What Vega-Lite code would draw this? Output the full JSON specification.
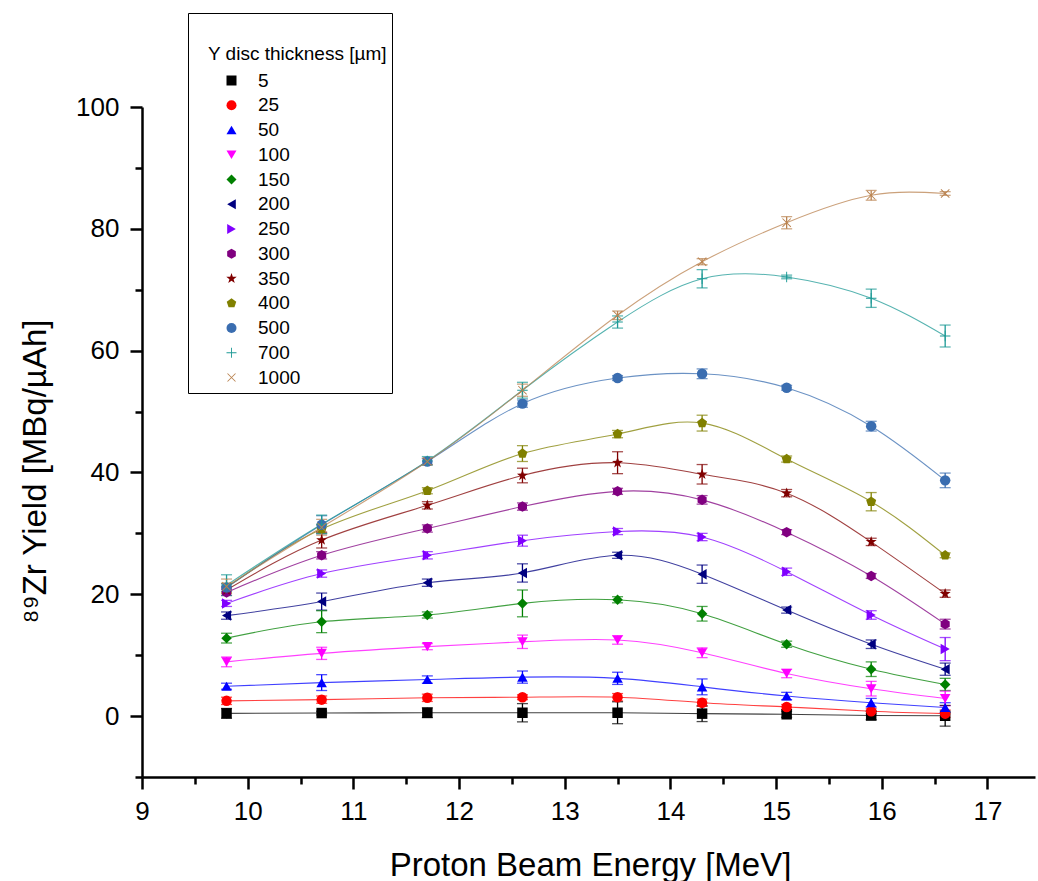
{
"$schema": "https://vega.github.io/schema/vega-lite/v6.json",
"width": 893, "height": 670,
"autosize": {"type": "none"},
"padding": {"left": 142, "top": 107, "right": 3, "bottom": 104},
"background": "white",
"config": {
 "view": {"stroke": null},
 "font": "Liberation Sans",
 "axis": {"grid": false, "domainColor": "black", "tickColor": "black", "labelColor": "black", "titleColor": "black", "labelFont": "Liberation Sans", "titleFont": "Liberation Sans", "labelFontSize": 26, "titleFontSize": 33, "titleFontWeight": "normal", "domainWidth": 2.5, "tickWidth": 2.5}
},
"data": {"values": [
{"t":"5","x":9.8,"y":0.45,"e":0.8},{"t":"5","x":10.7,"y":0.5,"e":0.3},{"t":"5","x":11.7,"y":0.55,"e":0.8},{"t":"5","x":12.6,"y":0.55,"e":1.5},{"t":"5","x":13.5,"y":0.55,"e":1.8},{"t":"5","x":14.3,"y":0.4,"e":1.3},{"t":"5","x":15.1,"y":0.3,"e":0.5},{"t":"5","x":15.9,"y":0.1,"e":0.7},{"t":"5","x":16.6,"y":0.05,"e":1.7},
{"t":"25","x":9.8,"y":2.5,"e":0.6},{"t":"25","x":10.7,"y":2.7,"e":0.6},{"t":"25","x":11.7,"y":3.0,"e":0.6},{"t":"25","x":12.6,"y":3.1,"e":0.4},{"t":"25","x":13.5,"y":3.1,"e":0.6},{"t":"25","x":14.3,"y":2.2,"e":0.6},{"t":"25","x":15.1,"y":1.5,"e":0.4},{"t":"25","x":15.9,"y":0.8,"e":0.4},{"t":"25","x":16.6,"y":0.4,"e":0.6},
{"t":"50","x":9.8,"y":4.9,"e":0.5},{"t":"50","x":10.7,"y":5.5,"e":1.3},{"t":"50","x":11.7,"y":6.0,"e":0.6},{"t":"50","x":12.6,"y":6.4,"e":1.0},{"t":"50","x":13.5,"y":6.2,"e":1.0},{"t":"50","x":14.3,"y":4.8,"e":1.3},{"t":"50","x":15.1,"y":3.3,"e":0.6},{"t":"50","x":15.9,"y":2.2,"e":0.7},{"t":"50","x":16.6,"y":1.4,"e":0.8},
{"t":"100","x":9.8,"y":8.9,"e":0.8},{"t":"100","x":10.7,"y":10.3,"e":1.0},{"t":"100","x":11.7,"y":11.4,"e":0.5},{"t":"100","x":12.6,"y":12.2,"e":1.1},{"t":"100","x":13.5,"y":12.5,"e":0.7},{"t":"100","x":14.3,"y":10.4,"e":0.8},{"t":"100","x":15.1,"y":7.0,"e":0.7},{"t":"100","x":15.9,"y":4.5,"e":1.2},{"t":"100","x":16.6,"y":2.9,"e":1.2},
{"t":"150","x":9.8,"y":12.8,"e":0.8},{"t":"150","x":10.7,"y":15.5,"e":1.8},{"t":"150","x":11.7,"y":16.6,"e":0.5},{"t":"150","x":12.6,"y":18.5,"e":2.2},{"t":"150","x":13.5,"y":19.1,"e":0.5},{"t":"150","x":14.3,"y":16.8,"e":1.2},{"t":"150","x":15.1,"y":11.8,"e":0.5},{"t":"150","x":15.9,"y":7.7,"e":1.2},{"t":"150","x":16.6,"y":5.2,"e":1.0},
{"t":"200","x":9.8,"y":16.5,"e":0.6},{"t":"200","x":10.7,"y":18.8,"e":1.4},{"t":"200","x":11.7,"y":21.9,"e":0.6},{"t":"200","x":12.6,"y":23.5,"e":1.5},{"t":"200","x":13.5,"y":26.4,"e":0.5},{"t":"200","x":14.3,"y":23.3,"e":1.5},{"t":"200","x":15.1,"y":17.4,"e":0.5},{"t":"200","x":15.9,"y":11.8,"e":0.7},{"t":"200","x":16.6,"y":7.7,"e":1.0},
{"t":"250","x":9.8,"y":18.5,"e":0.5},{"t":"250","x":10.7,"y":23.4,"e":0.6},{"t":"250","x":11.7,"y":26.4,"e":0.6},{"t":"250","x":12.6,"y":28.8,"e":0.9},{"t":"250","x":13.5,"y":30.3,"e":0.5},{"t":"250","x":14.3,"y":29.4,"e":0.6},{"t":"250","x":15.1,"y":23.7,"e":0.6},{"t":"250","x":15.9,"y":16.6,"e":0.7},{"t":"250","x":16.6,"y":11.0,"e":1.9},
{"t":"300","x":9.8,"y":20.3,"e":0.5},{"t":"300","x":10.7,"y":26.4,"e":0.6},{"t":"300","x":11.7,"y":30.8,"e":0.6},{"t":"300","x":12.6,"y":34.4,"e":0.6},{"t":"300","x":13.5,"y":36.9,"e":0.5},{"t":"300","x":14.3,"y":35.5,"e":0.7},{"t":"300","x":15.1,"y":30.2,"e":0.4},{"t":"300","x":15.9,"y":23.0,"e":0.4},{"t":"300","x":16.6,"y":15.1,"e":0.8},
{"t":"350","x":9.8,"y":20.7,"e":0.5},{"t":"350","x":10.7,"y":28.9,"e":1.3},{"t":"350","x":11.7,"y":34.6,"e":0.6},{"t":"350","x":12.6,"y":39.5,"e":1.2},{"t":"350","x":13.5,"y":41.6,"e":1.8},{"t":"350","x":14.3,"y":39.7,"e":1.6},{"t":"350","x":15.1,"y":36.6,"e":0.6},{"t":"350","x":15.9,"y":28.6,"e":0.6},{"t":"350","x":16.6,"y":20.1,"e":0.6},
{"t":"400","x":9.8,"y":21.1,"e":0.7},{"t":"400","x":10.7,"y":30.7,"e":0.7},{"t":"400","x":11.7,"y":37.0,"e":0.5},{"t":"400","x":12.6,"y":43.1,"e":1.3},{"t":"400","x":13.5,"y":46.3,"e":0.6},{"t":"400","x":14.3,"y":48.1,"e":1.3},{"t":"400","x":15.1,"y":42.2,"e":0.5},{"t":"400","x":15.9,"y":35.2,"e":1.5},{"t":"400","x":16.6,"y":26.4,"e":0.4},
{"t":"500","x":9.8,"y":21.1,"e":0.6},{"t":"500","x":10.7,"y":31.4,"e":1.5},{"t":"500","x":11.7,"y":41.8,"e":0.5},{"t":"500","x":12.6,"y":51.3,"e":0.6},{"t":"500","x":13.5,"y":55.5,"e":0.4},{"t":"500","x":14.3,"y":56.2,"e":0.8},{"t":"500","x":15.1,"y":53.9,"e":0.4},{"t":"500","x":15.9,"y":47.6,"e":0.8},{"t":"500","x":16.6,"y":38.7,"e":1.2},
{"t":"700","x":9.8,"y":21.5,"e":1.7},{"t":"700","x":10.7,"y":31.5,"e":1.5},{"t":"700","x":11.7,"y":41.9,"e":0.7},{"t":"700","x":12.6,"y":53.5,"e":1.3},{"t":"700","x":13.5,"y":64.7,"e":1.0},{"t":"700","x":14.3,"y":71.8,"e":1.5},{"t":"700","x":15.1,"y":72.1,"e":0.3},{"t":"700","x":15.9,"y":68.6,"e":1.5},{"t":"700","x":16.6,"y":62.4,"e":1.8},
{"t":"1000","x":9.8,"y":21.3,"e":1.2},{"t":"1000","x":10.7,"y":31.0,"e":1.3},{"t":"1000","x":11.7,"y":41.8,"e":0.5},{"t":"1000","x":12.6,"y":53.5,"e":1.0},{"t":"1000","x":13.5,"y":65.8,"e":0.7},{"t":"1000","x":14.3,"y":74.6,"e":0.5},{"t":"1000","x":15.1,"y":81.0,"e":1.0},{"t":"1000","x":15.9,"y":85.5,"e":0.8},{"t":"1000","x":16.6,"y":85.8,"e":0.3}
]},
"encoding": {
 "color": {"field": "t", "type": "nominal",
  "scale": {"domain": ["5","25","50","100","150","200","250","300","350","400","500","700","1000"],
   "range": ["#000000","#FF0000","#0000FF","#FF00FF","#008000","#000080","#8000FF","#800080","#800000","#808000","#3A6DB0","#1E9A96","#B9824F"]},
  "legend": {"orient": "none", "legendX": 46, "legendY": -94,
   "title": ["", "Y disc thickness [µm]"], "titleFontSize": 19, "titleFont": "Liberation Sans", "titleFontWeight": "normal", "titleColor": "black", "titleLineHeight": 27, "titleAnchor": "start", "titlePadding": 7, "titleLimit": 400,
   "labelFontSize": 19, "labelFont": "Liberation Sans", "labelColor": "black",
   "padding": 5, "strokeColor": "black", "fillColor": "white", "rowPadding": 4.75,
   "symbolSize": 100, "symbolOffset": 29, "labelOffset": 17, "symbolType": "circle",
   "encode": {
    "symbols": {"update": {
     "shape": {"value": {"expr": "['M-4.5,-0.1H4.5V0.1H-4.5ZM-0.75,-0.75H0.75V0.75H-0.75Z','M-4.5,-0.1H4.5V0.1H-4.5ZM-0.85,0A0.85,0.85 0 1,1 0.85,0A0.85,0.85 0 1,1 -0.85,0Z','M-4.5,-0.1H4.5V0.1H-4.5ZM0,-0.95L0.95,0.7H-0.95Z','M-4.5,-0.1H4.5V0.1H-4.5ZM0,0.95L-0.95,-0.7H0.95Z','M-4.5,-0.1H4.5V0.1H-4.5ZM0,-1L0.8,0L0,1L-0.8,0Z','M-4.5,-0.1H4.5V0.1H-4.5ZM-0.95,0L0.7,-0.95V0.95Z','M-4.5,-0.1H4.5V0.1H-4.5ZM0.95,0L-0.7,0.95V-0.95Z','M-4.5,-0.1H4.5V0.1H-4.5ZM0,-0.9L0.78,-0.45L0.78,0.45L0,0.9L-0.78,0.45L-0.78,-0.45Z','M-4.5,-0.1H4.5V0.1H-4.5ZM0,-1L0.235,-0.324L0.951,-0.309L0.38,0.124L0.588,0.809L0,0.4L-0.588,0.809L-0.38,0.124L-0.951,-0.309L-0.235,-0.324Z','M-4.5,-0.1H4.5V0.1H-4.5ZM0,-0.95L0.9,-0.29L0.56,0.77L-0.56,0.77L-0.9,-0.29Z','M-4.5,-0.1H4.5V0.1H-4.5ZM-0.85,0A0.85,0.85 0 1,1 0.85,0A0.85,0.85 0 1,1 -0.85,0Z','M-4.5,-0.1H4.5V0.1H-4.5ZM-0.1,-1H0.1V1H-0.1Z','M-4.5,-0.1H4.5V0.1H-4.5ZM-0.864,-0.736L-0.736,-0.864L0.864,0.736L0.736,0.864ZM0.736,-0.864L0.864,-0.736L-0.736,0.864L-0.864,0.736Z'][indexof(['5','25','50','100','150','200','250','300','350','400','500','700','1000'], datum.value)]"}},
     "fill": {"value": {"expr": "scale('color', datum.value)"}},
     "strokeWidth": {"value": 0},
     "opacity": {"value": 1},
     "size": {"value": 100}
    }},
    "title": {"update": {"dx": {"value": 15}}}
   }
  }
 }
},
"layer": [
 {"mark": {"type": "line", "interpolate": "natural", "strokeWidth": 1.1, "opacity": 0.75},
  "encoding": {
   "x": {"field": "x", "type": "quantitative", "scale": {"domain": [9, 17.45], "nice": false, "zero": false},
    "axis": {"orient": "bottom", "values": [9,10,11,12,13,14,15,16,17], "title": "Proton Beam Energy [MeV]", "tickSize": 12, "labelPadding": 9, "titleX": 448, "titleY": 98, "titleBaseline": "alphabetic", "titleAlign": "center", "labelFlush": false}},
   "y": {"field": "y", "type": "quantitative", "scale": {"domain": [-10, 100], "nice": false, "zero": false},
    "axis": {"orient": "left", "values": [0,20,40,60,80,100], "title": "⁸⁹Zr Yield [MBq/µAh]", "tickSize": 12, "labelPadding": 11, "titleX": -97, "titleY": 364, "titleBaseline": "alphabetic", "titleAngle": -90, "titleAlign": "center", "labelFlush": false}}
  }},
 {"mark": {"type": "errorbar", "ticks": {"size": 11, "thickness": 1.3}, "rule": {"strokeWidth": 1.3}},
  "encoding": {
   "x": {"field": "x", "type": "quantitative", "axis": null},
   "y": {"field": "y", "type": "quantitative", "axis": null},
   "yError": {"field": "e"}
  }},
 {"mark": {"type": "point", "filled": true, "size": 110, "opacity": 1},
  "encoding": {
   "x": {"field": "x", "type": "quantitative", "axis": {"orient": "bottom", "values": [9.5,10.5,11.5,12.5,13.5,14.5,15.5,16.5], "labels": false, "domain": false, "title": null, "tickSize": 7}},
   "y": {"field": "y", "type": "quantitative", "axis": {"orient": "left", "values": [-10,10,30,50,70,90], "labels": false, "domain": false, "title": null, "tickSize": 7}},
   "shape": {"field": "t", "type": "nominal", "legend": null,
    "scale": {"domain": ["5","25","50","100","150","200","250","300","350","400","500","700","1000"],
     "range": ["square","circle","triangle-up","triangle-down","diamond","triangle-left","triangle-right",
      "M0,-1L0.866,-0.5L0.866,0.5L0,1L-0.866,0.5L-0.866,-0.5Z",
      "M0,-1.1L0.26,-0.36L1.05,-0.34L0.42,0.14L0.65,0.89L0,0.44L-0.65,0.89L-0.42,0.14L-1.05,-0.34L-0.26,-0.36Z",
      "M0,-1L0.951,-0.309L0.588,0.809L-0.588,0.809L-0.951,-0.309Z",
      "circle",
      "M-1,-0.09H1V0.09H-1ZM-0.09,-1H0.09V1H-0.09Z",
      "M-0.864,-0.736L-0.736,-0.864L0.864,0.736L0.736,0.864ZM0.736,-0.864L0.864,-0.736L-0.736,0.864L-0.864,0.736Z"]}}
  }}
],
"resolve": {"axis": {"x": "independent", "y": "independent"}}
}
